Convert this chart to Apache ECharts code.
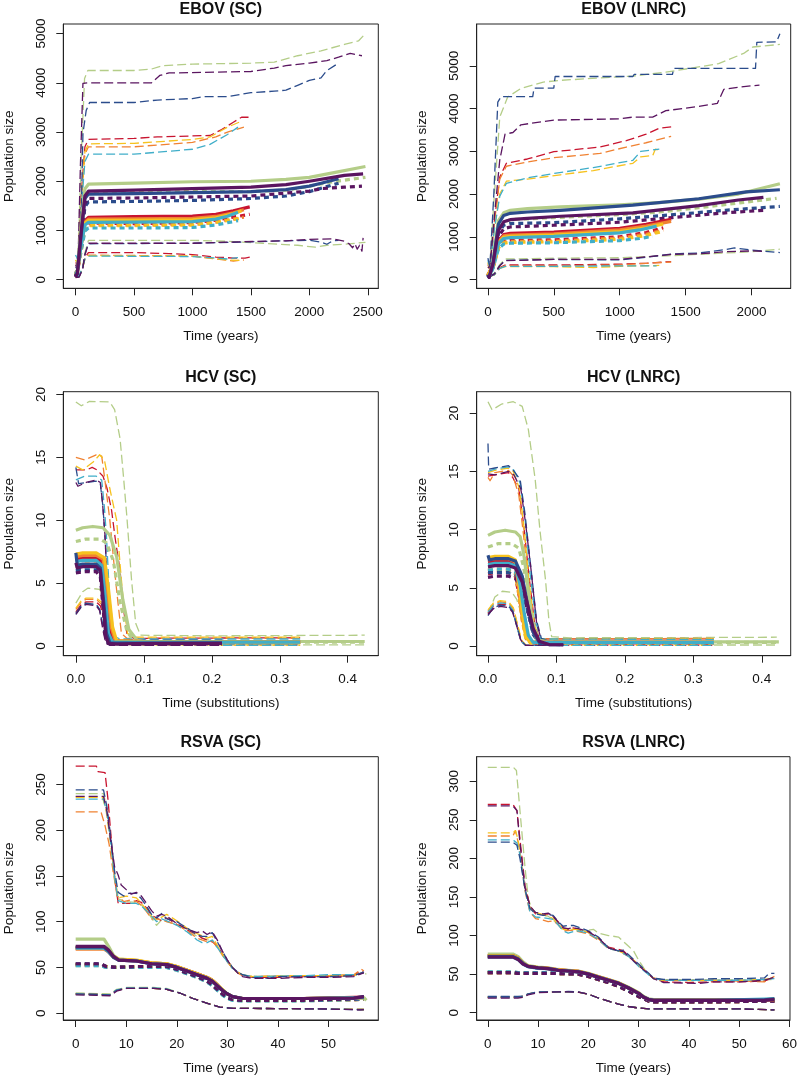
<!DOCTYPE html>
<html><head><meta charset="utf-8">
<script src="https://cdn.jsdelivr.net/npm/echarts@6/dist/echarts.min.js"></script>
<style>html,body{margin:0;padding:0;background:#fff}#c{width:800px;height:1079px}</style>
</head><body><div id="c"></div>
<script>
// colour order in every data list: green, purple, navy, red, orange, yellow, cyan
const colorNames = ['green','purple','navy','red','orange','yellow','cyan'];
const palette = ['#b4cd88','#5a1560','#2b4c8c','#c8142f','#f08232','#f6c21f','#40aec9'];

// ---------- EBOV (SC) ----------
const ebovScTicksX = [0,500,1000,1500,2000,2500];
const ebovScTicksY = [0,1000,2000,3000,4000,5000];
const ebovScMedian = [
 [[0,120],[15,180],[45,1000],[80,1850],[110,1940],[500,1960],[1000,1990],[1500,2000],[1800,2040],[2000,2080],[2200,2170],[2480,2300]],
 [[0,60],[15,120],[45,900],[80,1700],[110,1800],[500,1820],[1000,1850],[1500,1880],[1800,1930],[2000,2000],[2200,2080],[2300,2120],[2460,2150]],
 [[0,80],[15,140],[45,850],[80,1650],[110,1740],[500,1750],[1000,1770],[1500,1790],[1800,1830],[2000,1900],[2100,1960],[2250,2050]],
 [[0,100],[15,160],[45,700],[80,1200],[110,1265],[500,1280],[1000,1290],[1200,1330],[1350,1400],[1490,1480]],
 [[0,100],[15,160],[45,680],[80,1170],[110,1230],[500,1235],[1000,1245],[1200,1285],[1350,1360],[1440,1420]],
 [[0,100],[15,150],[45,660],[80,1150],[110,1200],[500,1205],[1000,1215],[1200,1255],[1350,1340],[1420,1400]],
 [[0,110],[15,160],[45,650],[80,1110],[110,1165],[500,1170],[1000,1180],[1200,1230],[1300,1290],[1390,1370]]
];
const ebovScMean = [
 [[0,100],[15,150],[45,850],[80,1700],[110,1770],[500,1780],[1000,1790],[1500,1790],[1800,1820],[2000,1900],[2200,1990],[2480,2080]],
 [[0,60],[15,100],[45,750],[80,1550],[110,1650],[500,1660],[1000,1680],[1500,1700],[1800,1760],[2000,1800],[2100,1850],[2300,1880],[2450,1900]],
 [[0,70],[15,120],[45,700],[80,1480],[110,1580],[500,1590],[1000,1610],[1500,1650],[1800,1700],[2000,1790],[2250,1960]],
 [[0,90],[15,140],[45,600],[80,1080],[110,1150],[500,1140],[1000,1160],[1200,1210],[1350,1270],[1490,1330]],
 [[0,90],[15,140],[45,580],[80,1050],[110,1110],[500,1110],[1000,1120],[1200,1170],[1440,1270]],
 [[0,90],[15,130],[45,560],[80,1030],[110,1100],[500,1100],[1000,1110],[1200,1160],[1420,1250]],
 [[0,90],[15,130],[45,540],[80,990],[110,1050],[500,1050],[1000,1060],[1200,1110],[1390,1200]]
];
const ebovScUpper = [
 [[0,400],[20,350],[50,2600],[77,4090],[105,4250],[500,4250],[650,4280],[750,4350],[1000,4380],[1500,4400],[1700,4420],[1900,4550],[2100,4650],[2300,4780],[2420,4850],[2480,5000]],
 [[0,300],[20,260],[41,2290],[63,3990],[100,4000],[650,4000],[720,4150],[800,4200],[1500,4230],[1700,4300],[1800,4350],[2000,4400],[2150,4450],[2250,4520],[2350,4600],[2450,4550]],
 [[0,250],[25,220],[50,1500],[63,2970],[91,3440],[120,3600],[500,3600],[700,3650],[1000,3680],[1100,3720],[1300,3720],[1500,3800],[1700,3830],[1800,3850],[1900,3950],[2000,4050],[2100,4100],[2150,4250],[2250,4400]],
 [[0,350],[20,300],[50,1800],[80,2700],[110,2850],[500,2870],[700,2900],[1000,2920],[1150,2930],[1250,3050],[1350,3200],[1420,3300],[1490,3300]],
 [[0,300],[20,280],[50,1600],[80,2550],[110,2700],[500,2700],[1000,2790],[1200,2900],[1300,3000],[1440,3100]],
 [[0,400],[20,300],[50,1700],[80,2600],[110,2760],[500,2770],[1000,2850],[1150,2900],[1300,3100],[1420,3220]],
 [[0,500],[20,400],[50,1500],[80,2400],[110,2550],[500,2550],[1000,2650],[1150,2750],[1300,2950],[1390,3100]]
];
const ebovScLower = [
 [[0,50],[30,60],[60,250],[80,550],[110,800],[1000,800],[1300,780],[1600,740],[1900,700],[2050,660],[2150,700],[2300,720],[2480,760]],
 [[0,40],[30,50],[60,200],[80,500],[110,740],[1000,740],[1400,770],[1800,790],[2000,820],[2200,830],[2300,780],[2340,730],[2370,650],[2390,730],[2410,620],[2430,700],[2450,580],[2460,850]],
 [[0,50],[30,60],[60,220],[80,520],[110,730],[1000,740],[1500,770],[1800,790],[2000,800],[2100,760],[2150,720],[2200,790],[2250,800]],
 [[0,60],[30,70],[60,250],[80,450],[110,550],[500,550],[800,530],[1000,510],[1200,460],[1350,440],[1450,440],[1490,460]],
 [[0,60],[30,70],[60,240],[80,430],[110,500],[1000,480],[1200,420],[1350,380],[1440,400]],
 [[0,60],[30,70],[60,230],[80,420],[110,490],[1000,480],[1200,430],[1300,400],[1420,390]],
 [[0,70],[30,80],[60,250],[80,420],[110,480],[1000,470],[1200,440],[1300,420],[1390,450]]
];

// ---------- EBOV (LNRC) ----------
const ebovLnTicksX = [0,500,1000,1500,2000];
const ebovLnTicksY = [0,1000,2000,3000,4000,5000];
const ebovLnMedian = [
 [[0,150],[10,70],[40,450],[80,1380],[120,1560],[170,1620],[300,1660],[550,1700],[1000,1750],[1300,1800],[1600,1880],[1900,2000],[2215,2240]],
 [[0,100],[10,50],[40,380],[80,1150],[120,1350],[170,1400],[300,1430],[550,1480],[1100,1560],[1600,1730],[1900,1860],[2090,1920]],
 [[0,120],[10,60],[40,420],[80,1300],[120,1500],[170,1550],[300,1580],[550,1620],[1100,1740],[1600,1890],[1960,2050],[2215,2100]],
 [[0,100],[10,60],[40,350],[80,900],[120,1050],[170,1080],[500,1110],[1000,1200],[1200,1290],[1390,1410]],
 [[0,100],[10,60],[40,340],[80,880],[120,1020],[170,1040],[500,1070],[1000,1160],[1200,1250],[1390,1360]],
 [[0,100],[10,60],[40,330],[80,860],[120,990],[170,1010],[500,1040],[1000,1120],[1200,1210],[1330,1300]],
 [[0,110],[10,60],[40,320],[80,840],[120,960],[170,980],[500,1010],[1000,1090],[1150,1160],[1280,1250]]
];
const ebovLnMean = [
 [[0,120],[10,60],[40,400],[80,1150],[120,1350],[170,1400],[500,1450],[1000,1520],[1300,1580],[1600,1680],[1900,1790],[2190,1900]],
 [[0,80],[10,50],[40,330],[80,1000],[120,1190],[170,1230],[500,1270],[1000,1340],[1400,1450],[1800,1560],[2090,1620]],
 [[0,100],[10,50],[40,360],[80,1080],[120,1270],[170,1310],[500,1330],[1000,1420],[1500,1540],[1800,1620],[2215,1710]],
 [[0,90],[10,50],[40,300],[80,780],[120,900],[170,920],[500,930],[1000,1000],[1200,1100],[1330,1210]],
 [[0,90],[10,50],[40,290],[80,760],[120,870],[170,890],[500,900],[1000,970],[1200,1060],[1330,1160]],
 [[0,90],[10,50],[40,280],[80,740],[120,850],[170,870],[500,880],[1000,940],[1200,1030],[1330,1130]],
 [[0,100],[10,50],[40,270],[80,720],[120,830],[170,850],[500,860],[1000,910],[1150,960],[1250,1010]]
];
const ebovLnUpper = [
 [[0,400],[15,300],[45,1800],[90,3800],[150,4270],[250,4470],[420,4620],[550,4660],[1100,4760],[1350,4850],[1750,5050],[1940,5290],[2010,5440],[2215,5500]],
 [[0,300],[15,250],[50,1500],[90,2800],[130,3400],[190,3440],[250,3620],[500,3730],[1000,3760],[1100,3800],[1250,3800],[1350,3950],[1600,4050],[1740,4120],[1790,4450],[1900,4500],[2060,4550]],
 [[0,500],[15,300],[45,2000],[75,4150],[100,4280],[340,4280],[350,4480],[500,4480],[510,4750],[1100,4750],[1110,4800],[1400,4800],[1410,4940],[2030,4940],[2040,5550],[2190,5560],[2215,5750]],
 [[0,350],[15,250],[50,1400],[90,2400],[140,2720],[300,2820],[500,2990],[850,3100],[1050,3250],[1200,3400],[1300,3540],[1390,3570]],
 [[0,300],[15,250],[50,1350],[90,2350],[140,2650],[300,2750],[500,2850],[850,2950],[1050,3100],[1200,3200],[1390,3350]],
 [[0,400],[15,250],[50,1200],[90,2000],[140,2300],[300,2350],[550,2450],[800,2550],[1100,2720],[1160,2870],[1250,2900],[1270,3050],[1300,3020]],
 [[0,450],[15,280],[50,1200],[90,1950],[140,2250],[300,2380],[500,2480],[800,2620],[1100,2790],[1160,3000],[1300,3050]]
];
const ebovLnLower = [
 [[0,60],[15,40],[50,150],[90,350],[130,480],[500,500],[1000,510],[1400,560],[1800,620],[2000,650],[2215,710]],
 [[0,40],[15,35],[50,130],[90,320],[130,440],[500,470],[1000,470],[1400,590],[1600,600],[1800,650],[2000,670],[2090,660]],
 [[0,50],[15,40],[50,140],[90,330],[130,450],[500,470],[1000,460],[1200,520],[1400,600],[1600,620],[1800,700],[1870,740],[2000,690],[2215,630]],
 [[0,60],[15,40],[50,120],[90,280],[130,340],[500,340],[1000,360],[1200,380],[1390,420]],
 [[0,60],[15,40],[50,115],[90,270],[130,320],[500,320],[1000,340],[1200,380],[1390,410]],
 [[0,60],[15,40],[50,110],[90,260],[130,300],[500,300],[800,280],[1000,310],[1300,330]],
 [[0,70],[15,45],[50,110],[90,260],[130,310],[500,310],[1000,320],[1280,320]]
];

// ---------- HCV (SC) ----------
const hcvScTicksX = [0,0.1,0.2,0.3,0.4];
const hcvScTicksY = [0,5,10,15,20];
const hcvScMedian = [
 [[0,9.2],[0.01,9.4],[0.025,9.5],[0.04,9.4],[0.05,8.8],[0.06,7.1],[0.069,3.7],[0.078,1.3],[0.09,0.45],[0.1,0.35],[0.2,0.35],[0.3,0.35],[0.425,0.35]],
 [[0,6.6],[0.002,6.2],[0.01,6.3],[0.03,6.3],[0.036,6.0],[0.04,3.5],[0.044,0.8],[0.048,0.2],[0.06,0.15],[0.1,0.2],[0.215,0.2]],
 [[0,7.4],[0.002,6.4],[0.01,6.5],[0.03,6.5],[0.036,6.2],[0.041,3.5],[0.045,1.0],[0.05,0.25],[0.1,0.2],[0.215,0.25]],
 [[0,6.9],[0.01,7.0],[0.03,7.0],[0.038,6.7],[0.044,4.5],[0.05,1.5],[0.056,0.4],[0.1,0.35],[0.33,0.3]],
 [[0,7.1],[0.01,7.2],[0.03,7.2],[0.04,6.9],[0.046,4.5],[0.052,1.5],[0.058,0.4],[0.1,0.35],[0.33,0.3]],
 [[0,7.3],[0.01,7.4],[0.03,7.4],[0.042,7.0],[0.048,4.5],[0.054,1.5],[0.06,0.4],[0.1,0.35],[0.33,0.3]],
 [[0,6.7],[0.01,6.8],[0.03,6.8],[0.038,6.4],[0.043,4.0],[0.048,1.0],[0.054,0.3],[0.1,0.3],[0.33,0.3]]
];
const hcvScMean = [
 [[0,8.3],[0.015,8.5],[0.035,8.5],[0.045,8.2],[0.055,6.8],[0.065,3.5],[0.075,1.2],[0.085,0.4],[0.1,0.3],[0.425,0.3]],
 [[0,5.8],[0.01,5.9],[0.03,5.9],[0.036,5.5],[0.04,3.0],[0.044,0.6],[0.05,0.15],[0.215,0.15]],
 [[0,6.0],[0.01,6.0],[0.03,6.0],[0.036,5.7],[0.041,3.0],[0.045,0.8],[0.05,0.2],[0.215,0.2]],
 [[0,6.2],[0.01,6.3],[0.03,6.3],[0.038,6.0],[0.044,4.0],[0.05,1.2],[0.056,0.3],[0.33,0.25]],
 [[0,6.3],[0.01,6.4],[0.03,6.4],[0.04,6.1],[0.046,4.0],[0.052,1.2],[0.058,0.3],[0.33,0.25]],
 [[0,6.4],[0.01,6.5],[0.03,6.5],[0.042,6.2],[0.048,4.0],[0.054,1.2],[0.06,0.3],[0.33,0.25]],
 [[0,6.0],[0.01,6.1],[0.03,6.1],[0.038,5.8],[0.043,3.5],[0.048,0.8],[0.054,0.2],[0.33,0.25]]
];
const hcvScUpper = [
 [[0,19.4],[0.008,19.1],[0.02,19.45],[0.05,19.4],[0.057,18.8],[0.065,16.5],[0.07,13.5],[0.075,10.3],[0.082,5.2],[0.088,1.8],[0.095,0.85],[0.2,0.8],[0.3,0.82],[0.425,0.85]],
 [[0,13.0],[0.003,12.7],[0.015,13.0],[0.03,13.2],[0.036,13.0],[0.039,11.5],[0.043,8.7],[0.046,4.5],[0.048,0.8],[0.055,0.4],[0.215,0.4]],
 [[0,14.2],[0.004,12.9],[0.015,13.0],[0.03,13.1],[0.036,12.9],[0.04,11.0],[0.044,7.5],[0.047,3.5],[0.05,0.7],[0.06,0.45],[0.215,0.45]],
 [[0,14.0],[0.016,14.0],[0.024,14.2],[0.031,14.0],[0.04,13.5],[0.046,12.5],[0.0525,10.8],[0.058,8.5],[0.065,6.0],[0.07,3.0],[0.075,1.0],[0.085,0.6],[0.33,0.65]],
 [[0,15.0],[0.013,14.8],[0.03,15.2],[0.038,15.1],[0.0427,13.2],[0.05,10.0],[0.057,6.0],[0.062,3.4],[0.067,1.0],[0.075,0.6],[0.33,0.6]],
 [[0,14.3],[0.01,14.0],[0.025,14.6],[0.035,15.2],[0.042,14.8],[0.05,12.5],[0.06,10.0],[0.065,6.5],[0.07,3.4],[0.076,1.0],[0.085,0.7],[0.33,0.7]],
 [[0,13.2],[0.013,13.5],[0.03,13.5],[0.038,13.2],[0.042,11.0],[0.045,8.7],[0.05,3.4],[0.055,0.8],[0.065,0.55],[0.33,0.55]]
];
const hcvScLower = [
 [[0,3.4],[0.01,4.3],[0.018,4.6],[0.035,4.5],[0.04,4.0],[0.048,2.5],[0.055,1.0],[0.062,0.3],[0.08,0.1],[0.425,0.08]],
 [[0,2.5],[0.008,3.1],[0.015,3.3],[0.03,3.2],[0.035,2.8],[0.04,1.2],[0.044,0.2],[0.05,0.05],[0.215,0.05]],
 [[0,2.6],[0.008,3.2],[0.015,3.4],[0.03,3.3],[0.035,2.9],[0.04,1.5],[0.044,0.3],[0.05,0.05],[0.215,0.05]],
 [[0,2.7],[0.008,3.3],[0.015,3.5],[0.03,3.5],[0.036,3.2],[0.042,2.0],[0.048,0.6],[0.055,0.1],[0.33,0.05]],
 [[0,2.9],[0.008,3.5],[0.015,3.7],[0.03,3.7],[0.038,3.3],[0.044,2.0],[0.05,0.6],[0.056,0.1],[0.33,0.05]],
 [[0,3.0],[0.008,3.6],[0.015,3.8],[0.03,3.8],[0.04,3.4],[0.046,2.2],[0.052,0.7],[0.058,0.1],[0.33,0.05]],
 [[0,2.5],[0.008,3.1],[0.015,3.3],[0.03,3.3],[0.035,2.9],[0.04,1.5],[0.045,0.3],[0.05,0.05],[0.33,0.05]]
];

// ---------- HCV (LNRC) ----------
const hcvLnTicksX = [0,0.1,0.2,0.3,0.4];
const hcvLnTicksY = [0,5,10,15,20];
const hcvLnMedian = [
 [[0,9.5],[0.01,9.8],[0.025,9.95],[0.04,9.8],[0.047,9.4],[0.052,8.0],[0.057,5.7],[0.064,2.2],[0.071,0.5],[0.09,0.35],[0.425,0.35]],
 [[0,6.8],[0.01,6.9],[0.03,6.9],[0.04,6.7],[0.05,5.5],[0.058,3.5],[0.066,1.5],[0.075,0.4],[0.09,0.1],[0.11,0.1]],
 [[0,7.8],[0.002,7.4],[0.01,7.5],[0.03,7.5],[0.04,7.3],[0.05,6.0],[0.058,3.5],[0.066,1.2],[0.075,0.3],[0.09,0.1],[0.11,0.1]],
 [[0,7.2],[0.01,7.3],[0.03,7.3],[0.04,7.0],[0.046,5.0],[0.052,2.5],[0.058,0.8],[0.065,0.3],[0.33,0.3]],
 [[0,7.4],[0.01,7.5],[0.03,7.5],[0.04,7.2],[0.045,5.0],[0.05,2.5],[0.056,0.8],[0.063,0.3],[0.33,0.3]],
 [[0,7.6],[0.01,7.7],[0.03,7.7],[0.04,7.4],[0.045,5.5],[0.05,2.8],[0.055,0.8],[0.062,0.3],[0.33,0.3]],
 [[0,7.0],[0.01,7.1],[0.03,7.1],[0.04,6.9],[0.047,5.2],[0.053,2.8],[0.059,0.9],[0.066,0.3],[0.33,0.3]]
];
const hcvLnMean = [
 [[0,8.5],[0.015,8.8],[0.035,8.8],[0.045,8.4],[0.052,6.8],[0.06,4.0],[0.068,1.5],[0.075,0.4],[0.09,0.3],[0.425,0.3]],
 [[0,5.9],[0.01,6.0],[0.03,6.0],[0.04,5.8],[0.05,4.8],[0.058,3.0],[0.066,1.2],[0.075,0.3],[0.11,0.1]],
 [[0,6.3],[0.01,6.3],[0.03,6.3],[0.04,6.1],[0.05,5.0],[0.058,3.0],[0.066,1.0],[0.075,0.2],[0.11,0.1]],
 [[0,6.2],[0.01,6.3],[0.03,6.3],[0.04,6.0],[0.046,4.2],[0.052,2.0],[0.058,0.6],[0.065,0.25],[0.33,0.25]],
 [[0,6.4],[0.01,6.5],[0.03,6.5],[0.04,6.2],[0.045,4.4],[0.05,2.2],[0.056,0.6],[0.063,0.25],[0.33,0.25]],
 [[0,6.5],[0.01,6.6],[0.03,6.6],[0.04,6.3],[0.045,4.6],[0.05,2.3],[0.055,0.7],[0.062,0.25],[0.33,0.25]],
 [[0,6.5],[0.01,6.6],[0.03,6.6],[0.04,6.4],[0.047,4.6],[0.053,2.4],[0.059,0.7],[0.066,0.25],[0.33,0.25]]
];
const hcvLnUpper = [
 [[0,21.0],[0.006,20.3],[0.02,20.8],[0.037,21.0],[0.05,20.6],[0.059,18.6],[0.069,14.3],[0.076,9.9],[0.084,5.7],[0.089,2.2],[0.093,0.8],[0.12,0.7],[0.3,0.72],[0.422,0.75]],
 [[0,14.8],[0.01,14.7],[0.03,15.0],[0.038,14.7],[0.048,13.5],[0.055,10.5],[0.063,6.5],[0.071,2.0],[0.078,0.5],[0.11,0.4]],
 [[0,17.4],[0.001,15.2],[0.01,15.3],[0.03,15.5],[0.037,15.1],[0.047,14.3],[0.054,11.4],[0.062,7.1],[0.071,2.2],[0.078,0.65],[0.09,0.4],[0.11,0.4]],
 [[0,14.6],[0.01,14.7],[0.03,14.9],[0.036,14.5],[0.045,13.5],[0.052,10.5],[0.06,6.0],[0.068,2.0],[0.075,0.6],[0.33,0.6]],
 [[0,14.5],[0.003,14.2],[0.01,14.9],[0.03,15.1],[0.036,14.7],[0.045,13.0],[0.052,9.5],[0.06,5.0],[0.067,1.5],[0.074,0.6],[0.33,0.65]],
 [[0,14.9],[0.01,15.1],[0.03,15.3],[0.037,15.0],[0.046,13.5],[0.053,10.0],[0.06,5.5],[0.068,1.8],[0.075,0.6],[0.33,0.6]],
 [[0,15.0],[0.01,15.2],[0.03,15.4],[0.038,15.1],[0.047,14.0],[0.054,11.0],[0.061,6.5],[0.07,2.0],[0.077,0.6],[0.33,0.55]]
];
const hcvLnLower = [
 [[0,2.8],[0.01,4.2],[0.021,4.7],[0.035,4.6],[0.042,4.0],[0.05,2.5],[0.058,1.0],[0.066,0.3],[0.075,0.08],[0.425,0.08]],
 [[0,2.7],[0.008,3.2],[0.018,3.4],[0.03,3.3],[0.036,2.9],[0.042,1.7],[0.048,0.5],[0.055,0.05],[0.11,0.05]],
 [[0,2.6],[0.008,3.3],[0.018,3.5],[0.03,3.4],[0.036,3.0],[0.042,1.8],[0.048,0.5],[0.055,0.05],[0.11,0.05]],
 [[0,2.8],[0.008,3.4],[0.018,3.6],[0.03,3.5],[0.036,3.1],[0.042,1.8],[0.048,0.4],[0.055,0.05],[0.33,0.05]],
 [[0,3.0],[0.008,3.6],[0.018,3.8],[0.03,3.7],[0.037,3.2],[0.043,1.8],[0.049,0.4],[0.056,0.05],[0.33,0.05]],
 [[0,3.1],[0.008,3.7],[0.018,3.9],[0.03,3.8],[0.037,3.3],[0.043,1.9],[0.049,0.5],[0.056,0.05],[0.33,0.05]],
 [[0,2.9],[0.008,3.5],[0.018,3.7],[0.03,3.6],[0.036,3.1],[0.042,1.7],[0.048,0.4],[0.055,0.05],[0.33,0.05]]
];

// ---------- RSVA (SC) ----------
const rsvaScTicksX = [0,10,20,30,40,50];
const rsvaScTicksY = [0,50,100,150,200,250];
const rsvaScMedian = [
 [[0,81],[5.6,81],[6.5,73],[7.5,63],[8.5,59],[12,57.5],[15,55],[18,54],[20,51],[22,47],[24,43],[26,39],[27,36],[28,31],[29,26],[30,21],[31,18],[33,16],[45,16],[55,16.5],[57,17],[57.5,14]],
 [[0,73],[5.6,73],[6.5,69],[7.5,62],[8.5,58],[12,57],[15,54],[18,53],[20,50],[22,46],[24,42],[26,38],[27,35],[28,30],[29,25],[30,21],[31,18],[33,16],[45,16],[55,16.5],[57,18]],
 [[0,72],[5.6,72],[6.5,68],[7.5,61],[8.5,58],[12,57],[15,54],[18,53],[20,50],[22,46],[24,42],[26,38],[27,35],[28,30],[29,25],[30,21],[31,18],[33,16],[45,16],[55,16.5],[57,18]],
 [[0,71],[5.6,71],[6.5,67],[7.5,61],[8.5,58],[12,57],[15,54.5],[18,53.5],[20,50.5],[22,47],[24,43],[26,39],[27,36],[28,31],[29,25],[30,21],[31,18],[33,16],[45,16],[57,17.5]],
 [[0,70],[5.6,70],[6.5,67],[7.5,61],[8.5,58.5],[12,57.5],[15,55],[18,54],[20,51],[22,47],[24,43],[26,39],[27,36],[28,31],[29,25],[30,21],[31,18],[33,16],[45,16],[57,17]],
 [[0,72],[5.6,72],[6.5,68],[7.5,62],[8.5,59],[12,58],[15,55],[18,54],[20,51],[22,47],[24,43],[26,39],[27,36],[28,31],[29,26],[30,21],[31,18],[33,16],[45,16],[57,17]],
 [[0,71],[5.6,71],[6.5,67],[7.5,61],[8.5,58],[12,57],[15,54],[18,53],[20,50],[22,46],[24,42],[26,38],[27,35],[28,30],[29,25],[30,21],[31,18],[33,16],[45,16],[57,17]]
];
const rsvaScMean = [
 [[0,52],[5,52],[6,50],[8,50],[12,50],[18,50],[20,47],[22,43],[24,39],[26,34],[27,30],[28,25],[29,20],[30,16],[31,14],[33,13.5],[45,13.5],[57,15]],
 [[0,54],[5,54],[6,51],[8,50],[12,51],[18,51],[20,48],[22,44],[24,40],[26,35],[27,31],[28,26],[29,21],[30,17],[31,15],[33,14],[45,14],[57,16]],
 [[0,54],[5,54],[6,51],[8,50],[12,51],[18,51],[20,48],[22,44],[24,40],[26,35],[27,31],[28,26],[29,21],[30,17],[31,15],[33,14],[45,14],[57,16]],
 [[0,53],[5,53],[6,51],[8,50],[12,51],[18,51],[20,48],[22,44],[24,40],[26,35],[27,31],[28,26],[29,21],[30,17],[31,15],[33,14],[45,14],[57,15]],
 [[0,53],[5,53],[6,51],[8,50],[12,51],[18,51],[20,48],[22,44],[24,40],[26,35],[27,31],[28,26],[29,21],[30,17],[31,15],[33,14],[45,14],[57,15]],
 [[0,53],[5,53],[6,51],[8,50],[12,51],[18,51],[20,48],[22,44],[24,40],[26,35],[27,31],[28,26],[29,21],[30,17],[31,15],[33,14],[45,14],[57,15]],
 [[0,52],[5,52],[6,50],[8,50],[12,50],[18,50],[20,47],[22,43],[24,39],[26,34],[27,30],[28,25],[29,20],[30,16],[31,14],[33,13.5],[45,13.5],[57,15]]
];
const rsvaScUpper = [
 [[0,240],[5.5,240],[6.2,222],[7,188],[7.7,150],[8.4,125],[10,122],[12,121],[13,118],[14,112],[15,104],[16,96],[17,102],[18,100],[20,97],[22,91],[24,84],[26,80],[27,80],[28,72],[29,63],[30,56],[31,49],[32,45],[33,42],[35,40],[45,41],[50,41],[55,42],[57.5,43]],
 [[0,237],[5.5,237],[6.2,220],[7,185],[7.7,160],[8.4,151],[9,140],[10,135],[11,130],[12,132],[13,128],[14,120],[15,112],[16,106],[17,108],[18,106],[20,98],[22,92],[24,88],[25,90],[26,86],[27,89],[28,80],[29,68],[30,58],[31,50],[32,44],[33,40],[35,38],[40,38],[45,39],[50,39],[55,40],[57,44]],
 [[0,244],[5.5,244],[6.2,225],[7,190],[7.7,155],[8.4,132],[9.5,128],[10.5,131],[12,131],[13,125],[14,117],[15,108],[16,104],[17,109],[18,103],[20,100],[22,93],[24,86],[25,84],[26,84],[27,88],[28,78],[29,68],[30,58],[31,50],[32,45],[33,42],[35,39],[38,38],[40,40],[45,40],[50,40],[55,41],[57,45]],
 [[0,270],[4.1,270],[4.4,264],[5.8,263],[6.4,233],[7.1,186],[7.7,149],[8.4,120],[11.3,120],[12,123],[13,121],[14,115],[15,107],[16,104],[17,101],[18,104],[20,97],[22,91],[24,86],[25,82],[26,80],[27,78],[28,74],[29,65],[30,57],[31,50],[32,45],[33,41],[35,39],[40,39],[45,40],[50,40],[55,41],[56.3,46],[57,44]],
 [[0,220],[5,220],[5.8,205],[6.6,185],[7.4,155],[8.2,128],[9.5,122],[11,124],[12,122],[13,118],[14,111],[15,103],[16,103],[17,102],[18,100],[20,97],[22,90],[24,82],[26,78],[27,79],[28,72],[29,64],[30,56],[31,49],[32,44],[33,41],[35,40],[45,41],[50,41],[55,42],[56.5,48],[57,46]],
 [[0,236],[5.3,236],[6,222],[6.8,190],[7.6,152],[8.4,126],[10,128],[12,126],[13,120],[14,113],[15,106],[16,102],[17,105],[18,108],[20,101],[22,93],[24,87],[26,82],[27,84],[28,74],[29,65],[30,57],[31,50],[32,45],[33,42],[35,40],[45,41],[50,41],[55,41],[57,45]],
 [[0,234],[5.5,234],[6.2,218],[7,183],[7.7,148],[8.4,123],[10,120],[12,120],[13,117],[14,112],[15,106],[16,100],[17,103],[18,101],[20,96],[22,89],[24,80],[25,77],[26,77],[27,80],[28,72],[29,64],[30,56],[31,49],[32,45],[33,42],[35,40],[45,41],[50,42],[55,42],[57,44]]
];
const rsvaScLower = [
 [[0,22],[6.8,21],[8.1,26],[10,28],[15.4,28],[18,27],[20.6,22],[23.2,16],[25.9,11],[28.5,6.5],[31.2,5.2],[40,5],[50,4.5],[57,4]],
 [[0,20],[6.8,19],[8.1,24],[10,27],[15.4,27],[18,26],[20.6,22],[23.2,16],[25.9,11],[28.5,6.5],[31.2,5.2],[40,5],[50,4.5],[56.3,3.6],[57,3.8]],
 [[0,21],[6.8,20],[8.1,25],[10,27],[15.4,27],[18,26],[20.6,22],[23.2,16],[25.9,11],[28.5,6.5],[31.2,5.2],[40,5],[50,4.5],[56.3,3.6],[57,3.8]],
 [[0,21],[6.8,20],[8.1,25],[10,27],[15.4,27],[18,26],[20.6,22],[23.2,16],[25.9,11],[28.5,6.5],[31.2,5.2],[40,5],[50,4.5],[57,4]],
 [[0,21],[6.8,20],[8.1,25],[10,27],[15.4,27],[18,26],[20.6,22],[23.2,16],[25.9,11],[28.5,6.5],[31.2,5.2],[40,5],[50,4.5],[57,4]],
 [[0,21],[6.8,20],[8.1,25],[10,27],[15.4,27],[18,26],[20.6,22],[23.2,16],[25.9,11],[28.5,6.5],[31.2,5.2],[40,5],[50,4.5],[57,4]],
 [[0,21],[6.8,20],[8.1,25.5],[10,27.5],[15.4,27.5],[18,26.5],[20.6,22],[23.2,16],[25.9,11],[28.5,6.5],[31.2,5.2],[40,5],[50,4.5],[57,4]]
];

// ---------- RSVA (LNRC) ----------
const rsvaLnTicksX = [0,10,20,30,40,50,60];
const rsvaLnTicksY = [0,50,100,150,200,250,300];
const rsvaLnMedian = [
 [[0,76],[5,76],[6,73],[7,66],[8,61],[10,59],[12,58],[14,56],[16,55],[18,54],[20,51],[22,47],[24,43],[26,39],[28,33],[30,26],[31,21],[32,18],[33,17],[45,17],[55,17],[57,18]],
 [[0,72],[5,72],[6,69],[7,63],[8,60],[10,58],[12,57],[14,55],[16,54],[18,53],[20,50],[22,46],[24,42],[26,38],[28,32],[30,25],[31,20],[32,17],[33,16],[45,16],[55,16],[57,17]],
 [[0,73],[5,73],[6,70],[7,64],[8,60],[10,58],[12,57],[14,55],[16,54],[18,53],[20,50],[22,46],[24,42],[26,38],[28,32],[30,25],[31,20],[32,17],[33,16],[45,16],[55,16.5],[57,18]],
 [[0,74],[5,74],[6,71],[7,64],[8,60],[10,58],[12,57.5],[14,55.5],[16,54.5],[18,53.5],[20,50.5],[22,46.5],[24,42.5],[26,38.5],[28,32],[30,25],[31,20],[32,17],[33,16],[45,16],[57,17]],
 [[0,73],[5,73],[6,70],[7,64],[8,60],[10,58],[12,57],[14,55],[16,54],[18,53],[20,50],[22,46],[24,42],[26,38],[28,32],[30,25],[31,20],[32,17],[33,16],[45,16],[57,17]],
 [[0,74],[5,74],[6,71],[7,64],[8,60.5],[10,58.5],[12,57.5],[14,55.5],[16,54.5],[18,53.5],[20,50.5],[22,46.5],[24,42.5],[26,38.5],[28,32.5],[30,25.5],[31,20],[32,17],[33,16],[45,16],[57,17]],
 [[0,72],[5,72],[6,69],[7,63],[8,59.5],[10,57.5],[12,57],[14,55],[16,54],[18,53],[20,50],[22,46],[24,42],[26,38],[28,32],[30,25],[31,20],[32,17],[33,16],[45,16],[57,18]]
];
const rsvaLnMean = [
 [[0,53],[5,53],[6,52],[12,52],[18,51],[20,48],[22,44],[24,40],[26,35],[28,29],[30,22],[32,16],[33,15],[45,15],[57,16]],
 [[0,52],[5,52],[6,51],[12,51],[18,50],[20,47],[22,43],[24,39],[26,34],[28,28],[30,21],[32,15],[33,14],[45,14],[57,15]],
 [[0,52],[5,52],[6,51],[12,51],[18,50],[20,47],[22,43],[24,39],[26,34],[28,28],[30,21],[32,15],[33,14],[45,14],[57,15]],
 [[0,52],[5,52],[6,51],[12,51],[18,50],[20,47],[22,43],[24,39],[26,34],[28,28],[30,21],[32,15],[33,14],[45,14],[57,15]],
 [[0,52],[5,52],[6,51],[12,51],[18,50],[20,47],[22,43],[24,39],[26,34],[28,28],[30,21],[32,15],[33,14],[45,14],[57,15]],
 [[0,52],[5,52],[6,51],[12,51],[18,50],[20,47],[22,43],[24,39],[26,34],[28,28],[30,21],[32,15],[33,14],[45,14],[57,15]],
 [[0,53],[5,53],[6,52],[12,52],[18,51],[20,48],[22,44],[24,40],[26,35],[28,29],[30,22],[32,16],[33,15],[45,15],[57,16]]
];
const rsvaLnUpper = [
 [[0,318],[5.1,318],[5.7,314],[6.4,262],[7.4,189],[8.1,146],[9,132],[10,128],[12,125],[14,115],[15,108],[17,106],[18,106],[20,107],[21,108],[22,103],[24,100],[26,98],[27,92],[28,86],[29,80],[30,68],[31,58],[32,50],[33,45],[35,42],[45,41],[50,42],[55,43],[57,43]],
 [[0,268],[5,268],[5.8,262],[6.4,220],[7.4,162],[8.4,138],[9.5,130],[11,128],[12,129],[13,125],[14,117],[15,110],[16,109],[17,110],[18,109],[20,105],[22,97],[24,84],[26,80],[27,79],[28,73],[30,61],[32,50],[33,44],[35,39],[42,38],[45,40],[50,40],[55,42],[57,46]],
 [[0,221],[5,221],[5.8,217],[6.4,200],[7.4,160],[8.4,135],[9.5,128],[11,126],[12,127],[13,126],[14,118],[15,112],[16,113],[17,113],[18,111],[20,106],[22,98],[24,84],[26,80],[27,81],[28,75],[30,63],[32,51],[33,45],[35,43],[40,43],[45,44],[50,44],[55,45],[56,51],[57,51]],
 [[0,270],[5,270],[5.8,262],[6.4,225],[7.4,165],[8.4,138],[9.5,128],[11,127],[12,128],[13,125],[14,118],[15,110],[16,108],[17,110],[18,108],[20,104],[22,96],[24,85],[26,82],[27,80],[28,74],[30,62],[32,50],[33,44],[35,40],[40,39],[45,40],[50,40],[55,41],[57,46]],
 [[0,229],[5,229],[5.5,236],[6,222],[6.6,198],[7.4,158],[8.4,130],[9.5,122],[11,120],[12,118],[13,119],[14,114],[15,106],[17,107],[18,105],[20,102],[22,94],[24,83],[26,80],[28,73],[30,61],[32,50],[33,45],[35,42],[45,42],[50,41],[55,40],[57,47]],
 [[0,233],[5,233],[5.5,236],[6,225],[6.6,200],[7.4,160],[8.4,136],[9.5,130],[11,127],[13,122],[14,115],[15,108],[17,108],[18,108],[20,104],[22,96],[24,84],[26,80],[28,74],[30,62],[32,50],[33,44],[35,42],[45,42],[50,42],[55,43],[57,45]],
 [[0,224],[5,224],[5.8,220],[6.4,205],[7.4,160],[8.4,130],[9.5,124],[11,123],[13,121],[14,114],[15,106],[16,103],[17,105],[18,106],[20,103],[22,95],[24,83],[26,80],[28,73],[30,60],[32,49],[33,44],[35,42],[45,42],[50,42],[55,43],[57,44]]
];
const rsvaLnLower = [
 [[0,20],[6,20],[7,21],[8,24],[10,27],[14,27],[16,27],[18,26.5],[20,24],[22,19],[24,15],[26,11],[28,8],[30,6],[32,5],[40,5],[50,5],[57,3.5]],
 [[0,19],[6,19],[7,20],[8,23],[10,26],[14,27],[16,27],[18,26.5],[20,24],[22,19],[24,15],[26,11],[28,8],[30,6],[32,5],[40,5],[50,5],[57,3.5]],
 [[0,21],[6,21],[7,21.5],[8,24.5],[10,27],[14,27],[16,27.5],[18,27],[20,24],[22,19],[24,15],[26,11],[28,8],[30,6],[32,5],[40,5],[50,5],[57,3.5]],
 [[0,20],[6,20],[7,21],[8,24],[10,27],[14,27],[16,27],[18,26.5],[20,24],[22,19],[24,15],[26,11],[28,8],[30,6],[32,5],[40,5],[50,5],[57,3.5]],
 [[0,20],[6,20],[7,21],[8,24],[10,27],[14,27],[16,27],[18,26.5],[20,24],[22,19],[24,15],[26,11],[28,8],[30,6],[32,5],[40,5],[50,5],[57,3.5]],
 [[0,20],[6,20],[7,21],[8,24],[10,27],[14,27],[16,27],[18,26.5],[20,24],[22,19],[24,15],[26,11],[28,8],[30,6],[32,5],[40,5],[50,5],[57,3.5]],
 [[0,20],[6,20],[7,21],[8,24],[10,27],[14,27],[16,27],[18,26.5],[20,24],[22,19],[24,15],[26,11],[28,8],[30,6],[32,5],[40,5],[50,5],[57,3.5]]
];

// ---------- layout ----------
const FONT = '"Liberation Sans", Arial, Helvetica, sans-serif';
const panels = [
 {title:'EBOV (SC)', xName:'Time (years)', box:[63.3,24,315,264.3], x:[-105,2590], y:[-175,5195], tx:ebovScTicksX, ty:ebovScTicksY, dec:0, d:[ebovScUpper,ebovScLower,ebovScMean,ebovScMedian]},
 {title:'EBOV (LNRC)', xName:'Time (years)', box:[476.7,24,314,264.3], x:[-85,2297], y:[-205,5978], tx:ebovLnTicksX, ty:ebovLnTicksY, dec:0, d:[ebovLnUpper,ebovLnLower,ebovLnMean,ebovLnMedian]},
 {title:'HCV (SC)', xName:'Time (substitutions)', box:[63.3,391.7,315,264], x:[-0.0185,0.445], y:[-0.78,20.22], tx:hcvScTicksX, ty:hcvScTicksY, dec:1, d:[hcvScUpper,hcvScLower,hcvScMean,hcvScMedian]},
 {title:'HCV (LNRC)', xName:'Time (substitutions)', box:[476.7,391.7,314,264], x:[-0.0165,0.4423], y:[-0.84,21.86], tx:hcvLnTicksX, ty:hcvLnTicksY, dec:1, d:[hcvLnUpper,hcvLnLower,hcvLnMean,hcvLnMedian]},
 {title:'RSVA (SC)', xName:'Time (years)', box:[63.3,756.7,315,263.3], x:[-2.45,59.85], y:[-7.5,280.3], tx:rsvaScTicksX, ty:rsvaScTicksY, dec:0, d:[rsvaScUpper,rsvaScLower,rsvaScMean,rsvaScMedian]},
 {title:'RSVA (LNRC)', xName:'Time (years)', box:[476.7,756.7,314,263.3], x:[-2.2,60.1], y:[-9.5,331.8], tx:rsvaLnTicksX, ty:rsvaLnTicksY, dec:0, d:[rsvaLnUpper,rsvaLnLower,rsvaLnMean,rsvaLnMedian]}
];
const kinds = [
 {width:1.3, type:[9,4], z:1},
 {width:1.3, type:[9,4], z:1},
 {width:3.2, type:[5,4], z:2},
 {width:3.2, type:'solid', z:3}
];
const drawOrder = [0,3,4,5,6,2,1];

const grids=[], xAxes=[], yAxes=[], series=[], graphics=[];
const textC = '#111', lineC = '#222';
panels.forEach((p,i)=>{
  const [l,t,w,h] = p.box;
  grids.push({left:l, top:t, width:w, height:h, show:true, borderColor:lineC, borderWidth:1, backgroundColor:'transparent'});
  xAxes.push({gridIndex:i, type:'value', min:p.x[0], max:p.x[1], position:'bottom',
    name:p.xName, nameLocation:'middle', nameGap:41,
    nameTextStyle:{fontSize:13.5, color:textC, fontFamily:FONT},
    axisLine:{show:true, onZero:false, lineStyle:{color:lineC, width:1}}, splitLine:{show:false},
    axisTick:{show:true, inside:false, length:7, customValues:p.tx, lineStyle:{color:lineC, width:1}},
    axisLabel:{show:true, customValues:p.tx, fontSize:13.5, color:textC, fontFamily:FONT, margin:17,
      formatter:v=>Number(v).toFixed(p.dec)}});
  yAxes.push({gridIndex:i, type:'value', min:p.y[0], max:p.y[1], position:'left',
    name:'Population size', nameLocation:'middle', nameGap:47, nameRotate:90,
    nameTextStyle:{fontSize:13.5, color:textC, fontFamily:FONT},
    axisLine:{show:true, onZero:false, lineStyle:{color:lineC, width:1}}, splitLine:{show:false},
    axisTick:{show:true, inside:false, length:7, customValues:p.ty, lineStyle:{color:lineC, width:1}},
    axisLabel:{show:true, customValues:p.ty, rotate:90, align:'center', verticalAlign:'bottom', fontSize:13.5, color:textC, fontFamily:FONT, margin:15,
      formatter:v=>String(v)}});
  graphics.push({type:'text', x:l+w/2, y:t-14, silent:true,
    style:{text:p.title, textAlign:'center', textVerticalAlign:'middle', font:'bold 16px '+FONT, fill:textC}});
  p.d.forEach((group,k)=>{
    const st = kinds[k];
    drawOrder.forEach(ci=>{
      series.push({type:'line', xAxisIndex:i, yAxisIndex:i, data:group[ci], name:colorNames[ci],
        showSymbol:false, symbol:'none', silent:true, animation:false, z:st.z, clip:true,
        emphasis:{disabled:true},
        lineStyle:{color:palette[ci], width:st.width, type:st.type, cap:'butt', join:'round'}});
    });
  });
});

const chart = echarts.init(document.getElementById('c'), null, {renderer:'canvas'});
chart.setOption({backgroundColor:'#fff', animation:false, grid:grids, xAxis:xAxes, yAxis:yAxes, series:series, graphic:graphics});
</script></body></html>
